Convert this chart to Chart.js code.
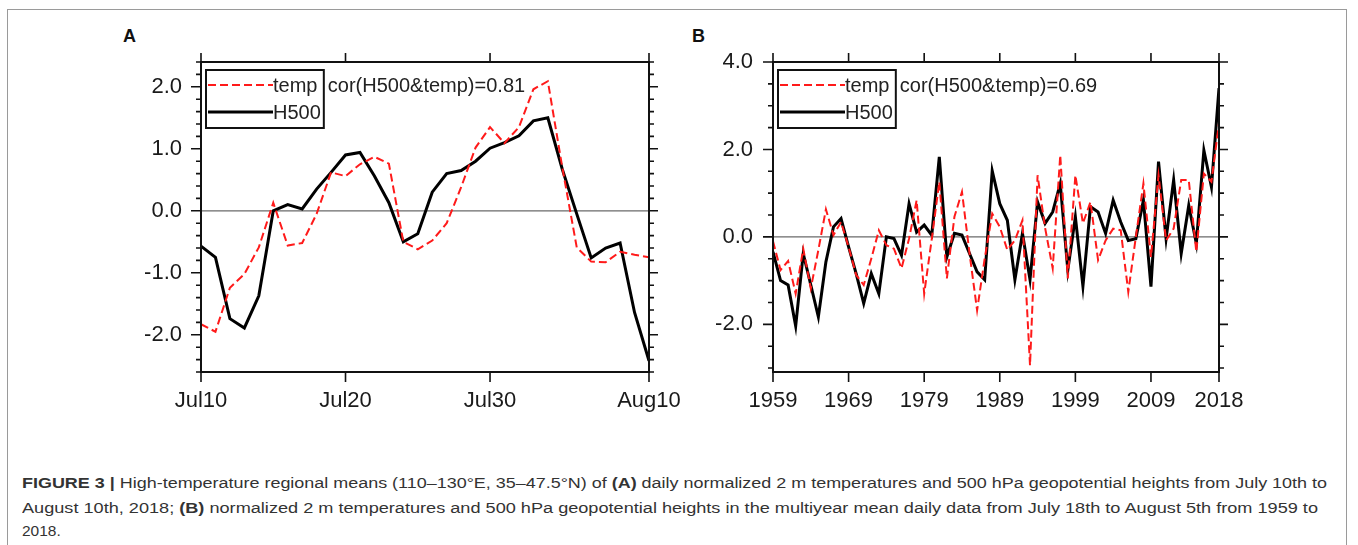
<!DOCTYPE html>
<html>
<head>
<meta charset="utf-8">
<script src="https://cdn.jsdelivr.net/npm/chart.js@4.4.1/dist/chart.umd.min.js"></script>
<style>
  body { margin: 0; background: #fff; width: 1358px; height: 545px; overflow: hidden; position: relative; font-family: "Liberation Sans", Arial, sans-serif; }
  .border { position: absolute; left: 7px; top: 9px; width: 1340px; height: 600px; border: 1px solid #9a9a9a; box-sizing: border-box; }
  .panel { position: absolute; font-weight: bold; font-size: 18px; color: #111; }
  canvas { position: absolute; }
  .cap { position: absolute; left: 22px; white-space: nowrap; font-size: 15.5px; color: #333; transform-origin: 0 50%; line-height: 24px; }
</style>
</head>
<body>
<div class="border"></div>
<div class="panel" style="left:123px; top:26px;">A</div>
<div class="panel" style="left:692px; top:26px;">B</div>
<canvas id="chartA" width="554" height="400" style="left:130px; top:30px;"></canvas>
<canvas id="chartB" width="554" height="400" style="left:700px; top:30px;"></canvas>
<div class="cap" id="cap1" style="top:471px;"><b>FIGURE 3 |</b> High-temperature regional means (110–130°E, 35–47.5°N) of <b>(A)</b> daily normalized 2 m temperatures and 500 hPa geopotential heights from July 10th to</div>
<div class="cap" id="cap2" style="top:496px;">August 10th, 2018; <b>(B)</b> normalized 2 m temperatures and 500 hPa geopotential heights in the multiyear mean daily data from July 18th to August 5th from 1959 to</div>
<div class="cap" id="cap3" style="top:519px;">2018.</div>
<script>
// panel A: daily values Jul10 - Aug10 2018
const tempA = [-1.83, -1.95, -1.24, -1.02, -0.59, 0.13, -0.56, -0.52, -0.05, 0.62, 0.56, 0.75, 0.87, 0.76, -0.5, -0.62,
               -0.48, -0.2, 0.38, 1.02, 1.35, 1.09, 1.35, 1.96, 2.09, 0.7, -0.59, -0.82, -0.83, -0.66, -0.71, -0.75];
const h500A = [-0.57, -0.75, -1.74, -1.89, -1.37, 0.0, 0.1, 0.03, 0.35, 0.62, 0.9, 0.94, 0.56, 0.13, -0.5, -0.37,
               0.3, 0.6, 0.65, 0.8, 1.01, 1.1, 1.21, 1.45, 1.5, 0.67, -0.05, -0.76, -0.6, -0.52, -1.64, -2.42];
const dayTicks = [0, 10, 20, 31];
const dayTickLabels = ['Jul10', 'Jul20', 'Jul30', 'Aug10'];
const yTicksA = [-2, -1, 0, 1, 2];
const yTickLabelsA = ['-2.0', '-1.0', '0.0', '1.0', '2.0'];

// panel B: yearly values 1959 - 2018
const tempB = [-0.1, -0.76, -0.55, -1.3, -0.27, -1.18, -0.3, 0.63, 0.04, 0.34, -0.23, -0.87, -1.1, -0.5, 0.15, -0.19,
               -0.27, -0.72, -0.04, 0.84, -1.3, -0.05, 1.26, -0.95, 0.46, 1.03, -0.38, -1.68, -0.5, 0.53, 0.23, -0.3,
               -0.08, 0.38, -2.94, 1.41, 0.2, -0.72, 1.87, -0.95, 1.41, 0.31, 0.8, -0.53, -0.08, 0.19, 0.15, -1.26,
               0.0, 1.22, -0.46, 1.41, -0.08, 0.19, 1.3, 1.3, -0.34, 1.45, 1.26, 2.6];
const h500B = [-0.34, -1.0, -1.1, -2.04, -0.38, -1.1, -1.83, -0.57, 0.23, 0.42, -0.23, -0.84, -1.52, -0.84, -1.3, 0.0,
               -0.04, -0.42, 0.76, 0.11, 0.27, 0.04, 1.83, -0.46, 0.08, 0.04, -0.38, -0.8, -0.98, 1.51, 0.76, 0.38,
               -0.98, 0.08, -0.98, 0.8, 0.31, 0.57, 1.22, -0.76, 0.46, -1.13, 0.69, 0.57, 0.08, 0.84, 0.34, -0.08,
               -0.04, 0.84, -1.14, 1.72, -0.04, 1.3, -0.38, 0.72, -0.15, 1.98, 1.14, 3.4];
const yearTicks = [1959, 1969, 1979, 1989, 1999, 2009, 2018];
const yTicksB = [-2, 0, 2, 4];
const yTickLabelsB = ['-2.0', '0.0', '2.0', '4.0'];

const FONT = '"Liberation Sans", Arial, sans-serif';

// frame, ticks on four sides, zero line, legend box
const framePlugin = {
  id: 'frame',
  beforeDatasetsDraw(chart) {
    const {ctx, chartArea: a, scales: {y}} = chart;
    const y0 = y.getPixelForValue(0);
    ctx.save();
    ctx.strokeStyle = '#6a6a6a';
    ctx.lineWidth = 1.2;
    ctx.beginPath();
    ctx.moveTo(a.left, y0);
    ctx.lineTo(a.right, y0);
    ctx.stroke();
    ctx.restore();
  },
  afterDatasetsDraw(chart, args, opts) {
    const {ctx, chartArea: a, scales: {x, y}} = chart;
    ctx.save();
    ctx.strokeStyle = '#111';
    ctx.lineWidth = 2;
    ctx.strokeRect(a.left, a.top, a.right - a.left, a.bottom - a.top);

    ctx.lineWidth = 1.6;
    ctx.beginPath();
    opts.xTicks.forEach(v => {
      const px = x.getPixelForValue(v);
      ctx.moveTo(px, a.bottom); ctx.lineTo(px, a.bottom + 10);
      ctx.moveTo(px, a.top); ctx.lineTo(px, a.top - 9);
    });
    opts.yTicks.forEach(v => {
      const py = y.getPixelForValue(v);
      ctx.moveTo(a.left, py); ctx.lineTo(a.left - 10, py);
      ctx.moveTo(a.right, py); ctx.lineTo(a.right + 9, py);
    });
    for (let k = opts.minorFrom; k <= opts.minorTo; k++) {
      const py = y.getPixelForValue(k * opts.minorStep);
      ctx.moveTo(a.left, py); ctx.lineTo(a.left - 5, py);
      ctx.moveTo(a.right, py); ctx.lineTo(a.right + 5, py);
    }
    ctx.stroke();

    // legend
    ctx.font = '20px ' + FONT;
    const ds = chart.data.datasets;
    const bx = a.left + 5, by = a.top + 8;
    const lineLen = 65;
    const textW = Math.max(...ds.map(d => ctx.measureText(d.label).width));
    const bw = lineLen + 2 + textW + 3, bh = 58;
    ctx.lineWidth = 2;
    ctx.strokeStyle = '#111';
    ctx.strokeRect(bx, by, bw, bh);
    ds.forEach((d, i) => {
      const ly = by + 15 + i * 27;
      ctx.save();
      ctx.strokeStyle = d.borderColor;
      ctx.lineWidth = d.borderWidth;
      ctx.setLineDash(d.borderDash || []);
      ctx.beginPath();
      ctx.moveTo(bx + 2, ly);
      ctx.lineTo(bx + 2 + lineLen, ly);
      ctx.stroke();
      ctx.restore();
      ctx.fillStyle = '#222';
      ctx.textBaseline = 'middle';
      ctx.fillText(d.label, bx + 2 + lineLen, ly + 1);
    });
    ctx.fillText(opts.corText, bx + bw + 4, by + 16);
    ctx.restore();
  }
};

function makeChart(id, xs, temp, h500, cfg) {
  return new Chart(document.getElementById(id), {
    type: 'line',
    data: {
      labels: xs,
      datasets: [
        { label: 'temp', data: temp, borderColor: '#ff1a1a', borderWidth: 2, borderDash: [8, 4], pointRadius: 0, tension: 0 },
        { label: 'H500', data: h500, borderColor: '#000', borderWidth: 3, pointRadius: 0, tension: 0 }
      ]
    },
    options: {
      responsive: false,
      animation: false,
      events: [],
      layout: { padding: { top: 32, right: 35, left: 0, bottom: 0 } },
      plugins: {
        legend: { display: false },
        tooltip: { enabled: false },
        frame: cfg.frame
      },
      scales: {
        x: {
          type: 'linear',
          min: cfg.xMin, max: cfg.xMax,
          grid: { display: false, drawTicks: false },
          border: { display: false },
          afterBuildTicks: s => { s.ticks = cfg.xTicks.map(v => ({ value: v })); },
          afterFit: s => { s.height = 58; s.paddingLeft = 0; s.paddingRight = 0; },
          ticks: {
            autoSkip: false, maxRotation: 0, padding: 16,
            color: '#1a1a1a', font: { family: FONT, size: 22 },
            callback: cfg.xLabel
          }
        },
        y: {
          min: cfg.yMin, max: cfg.yMax,
          grid: { display: false, drawTicks: false },
          border: { display: false },
          afterBuildTicks: s => { s.ticks = cfg.yTicks.map(v => ({ value: v })); },
          afterFit: s => { s.width = cfg.yWidth; s.paddingTop = 0; s.paddingBottom = 0; },
          ticks: {
            padding: cfg.yPad,
            color: '#1a1a1a', font: { family: FONT, size: 22 },
            callback: v => cfg.yLabels[cfg.yTicks.indexOf(v)]
          }
        }
      }
    },
    plugins: [framePlugin]
  });
}

const days = tempA.map((_, i) => i);
makeChart('chartA', days, tempA, h500A, {
  xMin: 0, xMax: 31, xTicks: dayTicks,
  xLabel: v => dayTickLabels[dayTicks.indexOf(v)],
  yMin: -2.6, yMax: 2.4, yTicks: yTicksA, yLabels: yTickLabelsA,
  yWidth: 71, yPad: 19,
  frame: { xTicks: dayTicks, yTicks: yTicksA, minorStep: 0.2, minorFrom: -13, minorTo: 12, corText: 'cor(H500&temp)=0.81' }
});

const years = tempB.map((_, i) => 1959 + i);
makeChart('chartB', years, tempB, h500B, {
  xMin: 1959, xMax: 2018, xTicks: yearTicks,
  xLabel: v => String(v),
  yMin: -3.09, yMax: 4.0, yTicks: yTicksB, yLabels: yTickLabelsB,
  yWidth: 73, yPad: 20,
  frame: { xTicks: yearTicks, yTicks: yTicksB, minorStep: 0.5, minorFrom: -6, minorTo: 8, corText: 'cor(H500&temp)=0.69' }
});

// stretch caption lines to the widths they have in the figure
const capWidths = { cap1: 1305, cap2: 1296 };
Object.keys(capWidths).forEach(id => {
  const el = document.getElementById(id);
  const w = el.getBoundingClientRect().width;
  el.style.transform = 'scaleX(' + (capWidths[id] / w).toFixed(4) + ')';
});
</script>
</body>
</html>
